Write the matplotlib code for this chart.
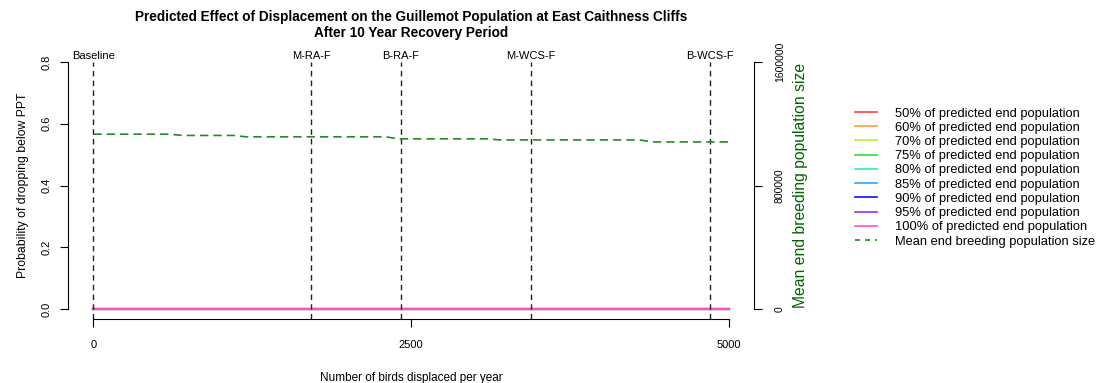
import numpy as np
import matplotlib
matplotlib.use("Agg")
import matplotlib.pyplot as plt
from matplotlib.lines import Line2D

plt.rcParams['font.family'] = ['Liberation Sans', 'DejaVu Sans']

# number of birds displaced per year (0 to 5000 in steps of 100)
displaced = list(range(0, 5001, 100))
# mean end breeding population size
mean_pop = ([1132000] * 7 + [1124000] * 5 + [1115000] * 12 + [1102000] * 8
            + [1095000] * 12 + [1082000] * 7)
# probability of dropping below each threshold (all zero)
thresholds = ["50%", "60%", "70%", "75%", "80%", "85%", "90%", "95%", "100%"]
prob = [0.0] * len(displaced)
colours = ['#FF4040', '#FFA030', '#B8F030', '#30E030', '#30F0A8',
           '#30A8FF', '#1010F0', '#A030F0', '#FF50C8']

scenarios = ["Baseline", "M-RA-F", "B-RA-F", "M-WCS-F", "B-WCS-F"]
scenario_x = [0, 1716, 2421, 3445, 4856]

fig = plt.figure(figsize=(10.99, 3.83), dpi=100)
ax = fig.add_axes([68 / 1099, 1 - 319 / 383, (754 - 68) / 1099, (319 - 52) / 383])

for lab, c in zip(thresholds, colours):
    ax.plot(displaced, prob, color=c, lw=1.5)

for name, xv in zip(scenarios, scenario_x):
    ax.plot([xv, xv], [-0.032, 0.8], color='#222222', lw=1, dashes=(4, 3))
    ax.text(xv, 0.802, name, ha='center', va='bottom', fontsize=8)

ax.set_xlim(-200, 5200)
ax.set_ylim(-0.032, 0.832)
ax.set_xticks([0, 2500, 5000])
ax.set_yticks([0.0, 0.2, 0.4, 0.6, 0.8])
ax.set_yticklabels(["0.0", "0.2", "0.4", "0.6", "0.8"])
ax.tick_params(axis='x', length=6, pad=9, labelsize=8)
ax.tick_params(axis='y', length=6, pad=6, labelsize=8, labelrotation=90)
for t in ax.get_yticklabels():
    t.set_va('center')
ax.spines['top'].set_visible(False)
ax.spines['right'].set_visible(False)
ax.spines['left'].set_bounds(0, 0.8)
ax.spines['bottom'].set_bounds(0, 5000)
ax.set_xlabel("Number of birds displaced per year", fontsize=8.5, labelpad=16)
ax.set_ylabel("Probability of dropping below PPT", fontsize=8.8, labelpad=9)
ax.set_title("Predicted Effect of Displacement on the Guillemot Population at East Caithness Cliffs\n"
             "After 10 Year Recovery Period", fontsize=9.8, fontweight='bold', pad=11,
             linespacing=1.15)

ax2 = ax.twinx()
ax2.plot(displaced, mean_pop, color='#228B22', lw=1.2, dashes=(5, 3))
ax2.set_ylim(-0.04 * 1600000, 1.04 * 1600000)
ax2.set_yticks([0, 800000, 1600000])
ax2.set_yticklabels(["0", "800000", "1600000"], rotation=90, va='center')
ax2.tick_params(axis='y', length=6, pad=9, labelsize=7.5)
for s in ['top', 'left', 'bottom']:
    ax2.spines[s].set_visible(False)
ax2.spines['right'].set_bounds(0, 1600000)
ax2.set_ylabel("Mean end breeding population size", color='#006400', fontsize=11.3, labelpad=6)

handles = [Line2D([], [], color=c, lw=1.2) for c in colours]
labels = [f"{t} of predicted end population" for t in thresholds]
handles.append(Line2D([], [], color='#228B22', lw=1.2, dashes=(3, 3)))
labels.append("Mean end breeding population size")
fig.legend(handles, labels, loc='upper left', bbox_to_anchor=(849 / 1099, 1 - 101 / 383),
           frameon=False, fontsize=9.3, handlelength=1.7, handletextpad=1.35,
           labelspacing=0.17, borderpad=0)

fig.savefig("out.png", dpi=100)
